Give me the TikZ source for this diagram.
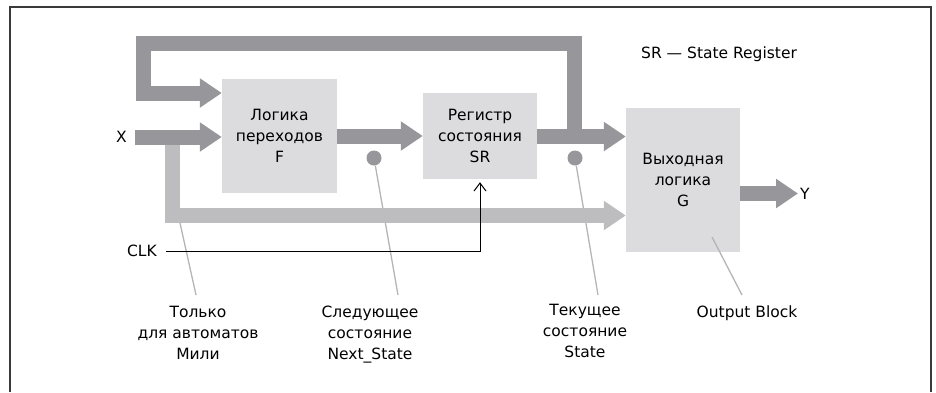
\documentclass[tikz,border=0pt]{standalone}
\usepackage{fontspec}
\setmainfont{DejaVu Sans}
\usepackage{tikz}
\usetikzlibrary{positioning,arrows.meta,calc}
\definecolor{busdark}{HTML}{97979B}
\definecolor{buslight}{HTML}{BDBDC0}
\definecolor{boxfill}{HTML}{DCDCDE}
\definecolor{leadgray}{HTML}{B5B5B9}
\definecolor{framegray}{HTML}{3A3A3A}
\begin{document}
\begin{tikzpicture}[
  x=1pt, y=-1pt,
  font={\fontsize{15.5}{21}\selectfont},
  fsmbox/.style={fill=boxfill, draw=none, align=center, inner sep=0pt},
  bus/.style={draw=busdark, line width=15pt, -{Triangle[length=22pt,width=28pt]}},
  mealybus/.style={bus, draw=buslight},
  clkline/.style={draw=black, line width=1pt, -{Straight Barb[length=8pt,width=12pt]}},
  leader/.style={draw=leadgray, line width=1.3pt},
  dotv/.style={circle, fill=busdark, minimum size=15pt, inner sep=0pt},
  note/.style={anchor=north, align=center, inner sep=0pt}
]
\useasboundingbox (0,0) rectangle (936,392);
\draw[framegray, line width=2pt] (9.5,392) |- (931,6.5) -- (931,392);
\node[fsmbox, minimum width=115pt, minimum height=114pt] (f) at (279.5,136) {Логика\\переходов\\F};
\node[fsmbox, minimum width=114pt, minimum height=86pt] (sr) at (480,136) {Регистр\\состояния\\SR};
\node[fsmbox, minimum width=114pt, minimum height=144pt] (g) at (683,180) {Выходная\\логика\\G};
\node[anchor=east, inner xsep=8pt, inner ysep=0pt] (xin) at (135,137) {X};
\node[anchor=east, inner xsep=9pt, inner ysep=0pt] (clk) at (166,251) {CLK};
\node[anchor=west, inner xsep=2pt, inner ysep=0pt] (yout) at (798,193.5) {Y};
\node[anchor=base west, inner sep=0pt] (srnote) at (641,58.5) {SR — State Register};
\node[dotv] (nsdot) at (374,158) {};
\node[dotv] (stdot) at (575,158) {};
\node[note] (mealylbl) at (198,306) {Только\\для автоматов\\Мили};
\node[note] (nslbl) at (370,306) {Следующее\\состояние\\Next\_State};
\node[note] (stlbl) at (585,304) {Текущее\\состояние\\State};
\node[note] (outlbl) at (747,306) {Output Block};
\coordinate (mealytop) at (180,223);
\coordinate (mealyend) at (196,295);
\coordinate (nsend) at (398,295);
\coordinate (stend) at (598,295);
\coordinate (outtop) at (712,237);
\coordinate (outend) at (742,295);
\draw[leader] (mealytop) -- (mealyend);
\draw[leader] (nsdot) -- (nsend);
\draw[leader] (stdot) -- (stend);
\draw[leader] (outtop) -- (outend);
\coordinate (mealy) at (172.5,137);
\coordinate (mealyin) at (172.5,215.5);
\draw[mealybus] (mealy) -- (mealyin) -- (mealyin -| g.west);
\coordinate (tap) at (574.5,136.5);
\coordinate (loopin) at (143,93);
\draw[bus] (tap) -- (574.5,43) -| (loopin) -- (loopin -| f.west);
\draw[bus] (xin.east) -- (xin.east -| f.west);
\draw[bus] (f) -- (sr);
\draw[bus] (sr.east |- tap) -- (tap -| g.west);
\draw[bus] (g.east |- yout) -- (yout.west);
\draw[clkline, shorten >=3pt] (clk.east) -| (sr.south);
\end{tikzpicture}
\end{document}
